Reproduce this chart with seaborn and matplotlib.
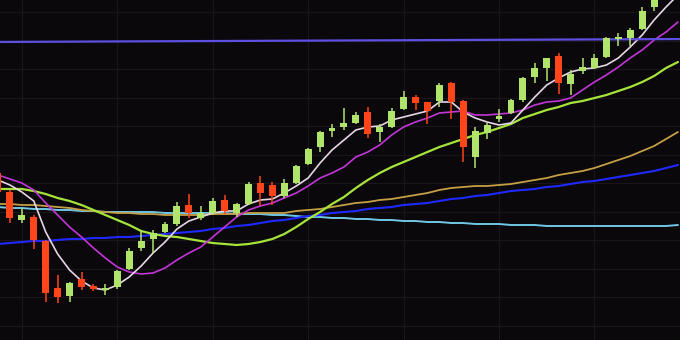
import numpy as np
import pandas as pd
import matplotlib
matplotlib.use("Agg")
import matplotlib.pyplot as plt
import seaborn as sns

# ---------------- data ----------------
opens = [167, 148, 120, 123, 99, 52, 44, 61, 54, 50, 53, 71, 92, 101, 108, 116,
         135, 122, 127, 140, 127, 136, 157, 155, 144, 157, 176, 193, 209, 213, 217,
         228, 208, 213, 231, 243, 238, 239, 257, 239, 183, 207, 221, 227, 240, 263,
         272, 284, 256, 269, 272, 283, 301, 302, 311, 333]
highs = [169, 150, 132, 125, 100, 65, 58, 68, 56, 56, 70, 92, 110, 110, 118, 138,
         146, 134, 142, 145, 137, 158, 164, 158, 161, 175, 192, 209, 216, 232, 228,
         233, 216, 232, 249, 245, 238, 257, 258, 240, 213, 217, 231, 241, 263, 277,
         282, 287, 270, 282, 286, 303, 307, 312, 333, 348]
lows = [146, 117, 117, 91, 38, 37, 38, 50, 49, 45, 51, 70, 89, 87, 107, 114,
        122, 120, 125, 126, 123, 135, 134, 135, 142, 156, 175, 188, 203, 210, 216,
        202, 198, 212, 230, 230, 216, 233, 221, 178, 172, 201, 218, 226, 238, 257,
        259, 246, 245, 266, 271, 282, 294, 294, 310, 329]
closes = [148, 122, 125, 100, 47, 43, 57, 53, 51, 52, 69, 89, 99, 107, 116, 134,
          127, 127, 139, 129, 136, 156, 147, 144, 157, 174, 191, 208, 212, 217, 225,
          206, 213, 229, 243, 237, 229, 255, 238, 193, 209, 215, 224, 240, 262, 272,
          282, 257, 266, 273, 282, 302, 303, 310, 329, 345]

ma_white = [160, 155, 148, 139, 108, 86, 70, 59, 52, 50, 55, 63, 74, 87, 98, 111,
            119, 123, 127, 129, 129, 136, 140, 141, 147, 154, 162, 177, 190, 200, 210,
            213, 214, 220, 223, 226, 229, 238, 238, 228, 222, 218, 215, 217, 230, 243,
            255, 262, 268, 271, 272, 275, 282, 293, 305, 320, 333, 345]
ma_magenta = [165, 161, 157, 150, 137, 125, 113, 103, 92, 82, 73, 68, 66, 67, 72, 80,
              87, 93, 103, 113, 123, 130, 134, 137, 142, 147, 154, 162, 167, 173, 183,
              188, 195, 205, 213, 218, 222, 227, 228, 229, 225, 225, 226, 227, 230, 235,
              238, 239, 242, 250, 258, 265, 273, 282, 290, 300, 308, 318]
ma_lime = [151, 151, 151, 149, 146, 142, 139, 135, 130, 125, 120, 115, 109, 106, 104, 103,
           101, 99, 97, 96, 95, 96, 98, 101, 106, 113, 121, 128, 136, 143, 152,
           160, 167, 173, 178, 183, 188, 193, 197, 201, 205, 208, 212, 216, 222, 226,
           230, 233, 237, 239, 242, 245, 249, 253, 258, 264, 272, 278]
ma_gold = [136, 136, 135, 135, 134, 133, 132, 130, 129, 128, 127, 127, 126, 126, 125, 125,
           125, 125, 126, 126, 126, 127, 127, 127, 127, 129, 130, 131, 133, 135, 137,
           138, 140, 141, 143, 145, 147, 150, 152, 153, 154, 154, 155, 156, 158, 160,
           162, 165, 167, 169, 172, 176, 180, 184, 189, 194, 201, 208]
ma_blue = [96, 97, 98, 99, 99, 100, 101, 101, 102, 102, 103, 103, 104, 105, 106, 107,
           108, 109, 111, 112, 114, 115, 117, 119, 120, 122, 124, 125, 127, 128, 129,
           131, 132, 133, 135, 136, 137, 139, 141, 142, 144, 145, 147, 149, 150, 151,
           153, 154, 156, 158, 159, 161, 163, 165, 167, 169, 172, 175]
ma_cyan = [133, 132, 132, 131, 131, 130, 130, 129, 129, 128, 128, 128, 128, 128, 127, 127,
           127, 127, 127, 127, 126, 126, 126, 125, 125, 124, 123, 123, 122, 122, 121,
           121, 120, 120, 119, 119, 118, 118, 117, 117, 116, 116, 116, 115, 115, 115,
           114, 114, 114, 114, 114, 114, 114, 114, 114, 114, 114, 115]
level = [298, 301]

# ---------------- style ----------------
BG = "#0a080b"
GRID = "#19151a"
UP = "#b0e46a"
DOWN = "#ff4519"

sns.set_theme(style="dark", rc={"axes.facecolor": BG, "figure.facecolor": BG,
                                "savefig.facecolor": BG})

fig = plt.figure(figsize=(6.8, 3.4), dpi=100)
ax = fig.add_axes([0, 0, 1, 1])
ax.set_facecolor(BG)

n = len(opens)
idx = np.arange(n)
ma_idx = np.arange(len(ma_white))

ma_df = pd.DataFrame({"idx": ma_idx, "white": ma_white, "magenta": ma_magenta,
                      "lime": ma_lime, "gold": ma_gold, "blue": ma_blue,
                      "cyan": ma_cyan})

styles = [("cyan", "#6fc6e6", 1.4), ("blue", "#1f28ff", 1.5), ("gold", "#c49f45", 1.3),
          ("lime", "#a6e43c", 1.6), ("magenta", "#c236d8", 1.2), ("white", "#e6d6e6", 1.2)]
for col, color, lw in styles:
    sns.lineplot(data=ma_df, x="idx", y=col, ax=ax, color=color, lw=lw,
                 legend=False, zorder=3)

# horizontal reference level
lvl_df = pd.DataFrame({"idx": [ma_idx[0] - 1, ma_idx[-1] + 1], "v": level})
sns.lineplot(data=lvl_df, x="idx", y="v", ax=ax, color="#5d4fe2", lw=1.6,
             legend=False, zorder=3)

# candles
o = np.array(opens, float)
c = np.array(closes, float)
h = np.array(highs, float)
l = np.array(lows, float)
colors = [UP if cc >= oo else DOWN for oo, cc in zip(o, c)]
ax.vlines(idx, l, h, colors=colors, lw=1.1, zorder=4)
body_h = np.maximum(np.abs(c - o), 1.2)
ax.bar(idx, body_h, bottom=np.minimum(o, c), width=0.58, color=colors,
       linewidth=0, zorder=5)

# axes / grid
ax.set_xlim(0.168, 57.17)
ax.set_ylim(0, 340)
ax.set_xticks([2, 10, 18, 26, 34, 42, 50])
ax.set_yticks([328, 299.5, 271, 242.5, 214, 185.5, 157, 128.5, 100, 71.5, 43, 14.5])
ax.grid(True, color=GRID, lw=0.9, zorder=0)
ax.set_axisbelow(True)
ax.tick_params(length=0, labelbottom=False, labelleft=False)
ax.set_xlabel("")
ax.set_ylabel("")
for s in ax.spines.values():
    s.set_visible(False)

fig.savefig("out.png", dpi=100, facecolor=BG)
